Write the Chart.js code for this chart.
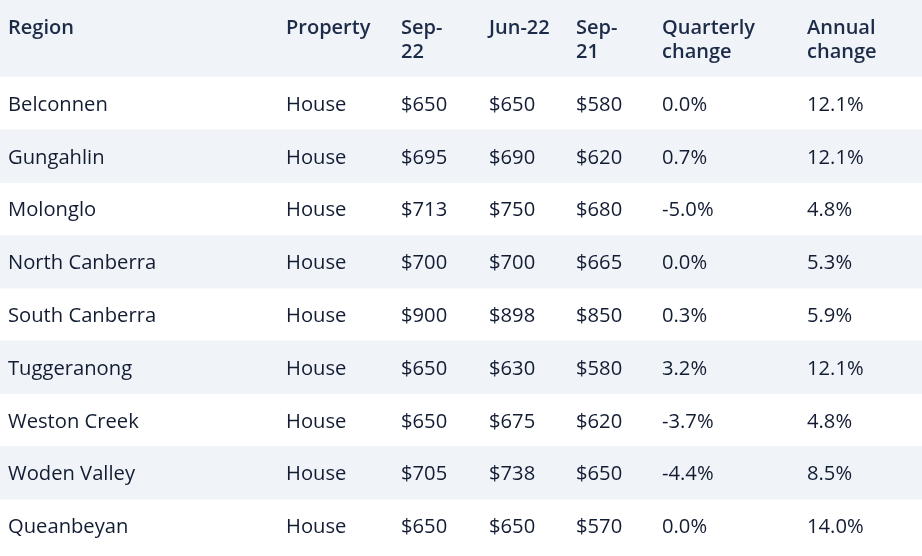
<!DOCTYPE html>
<html><head><meta charset="utf-8">
<script src="https://cdn.jsdelivr.net/npm/chart.js@4"></script>
<style>html,body{margin:0;padding:0;background:#fff;overflow:hidden}#wrap{width:922px;height:556px;position:relative}</style>
</head><body><div id="wrap"><canvas id="c"></canvas></div>
<script>
// ---- data ----
const regions = ["Belconnen","Gungahlin","Molonglo","North Canberra","South Canberra","Tuggeranong","Weston Creek","Woden Valley","Queanbeyan"];
const propertyTypes = ["House","House","House","House","House","House","House","House","House"];
const sep22 = [650,695,713,700,900,650,650,705,650];
const jun22 = [650,690,750,700,898,630,675,738,650];
const sep21 = [580,620,680,665,850,580,620,650,570];
const quarterlyChange = [0.0,0.7,-5.0,0.0,0.3,3.2,-3.7,-4.4,0.0];
const annualChange = [12.1,12.1,4.8,5.3,5.9,12.1,4.8,8.5,14.0];
const headerLabels = [["Region"],["Property"],["Sep-","22"],["Jun-22"],["Sep-","21"],["Quarterly","change"],["Annual","change"]];

// ---- layout / style ----
const COL_X = [8,286,401,489,576,662,807];
const STRIPE = '#f0f3f7';
const HEAD_COLOR = '#1c2b48';
const BODY_COLOR = '#121c33';
const FONT_FAMILY = '"Source Sans Pro","Open Sans",sans-serif';
const BODY_FONT = '400 20.2px ' + FONT_FAMILY;
const HEAD_FONT = '600 20px ' + FONT_FAMILY;

const money = v => '$' + v;
const pct = v => v.toFixed(1) + '%';
const rowCells = i => [regions[i], propertyTypes[i], money(sep22[i]), money(jun22[i]), money(sep21[i]), pct(quarterlyChange[i]), pct(annualChange[i])];

const stripes = regions.map((r,i) => i % 2 === 1 ? [0, 922] : null);

const tablePlugin = {
  id: 'tableText',
  beforeDatasetsDraw(chart) {
    const {ctx, chartArea} = chart;
    ctx.save();
    ctx.fillStyle = STRIPE;
    ctx.fillRect(0, 0, chart.width, chartArea.top);
    ctx.restore();
  },
  afterDatasetsDraw(chart) {
    const {ctx, scales:{x, y}} = chart;
    ctx.save();
    ctx.textBaseline = 'alphabetic';
    ctx.textAlign = 'left';
    ctx.font = HEAD_FONT;
    ctx.fillStyle = HEAD_COLOR;
    headerLabels.forEach((lines, j) => {
      lines.forEach((t, k) => ctx.fillText(t, x.getPixelForValue(COL_X[j]), 33.5 + k * 24.5));
    });
    ctx.font = BODY_FONT;
    ctx.fillStyle = BODY_COLOR;
    regions.forEach((r, i) => {
      const yc = y.getPixelForValue(i);
      rowCells(i).forEach((t, j) => ctx.fillText(t, x.getPixelForValue(COL_X[j]), yc + 7.5));
    });
    ctx.restore();
  }
};

new Chart(document.getElementById('c'), {
  type: 'bar',
  data: {
    labels: regions,
    datasets: [{
      data: stripes,
      backgroundColor: STRIPE,
      borderWidth: 0,
      barPercentage: 1,
      categoryPercentage: 1
    }]
  },
  options: {
    indexAxis: 'y',
    responsive: true,
    maintainAspectRatio: false,
    animation: false,
    layout: {padding: {top: 77, bottom: 4, left: 0, right: 0}},
    scales: {
      x: {type: 'linear', min: 0, max: 922, display: false},
      y: {display: false, offset: true}
    },
    plugins: {legend: {display: false}, tooltip: {enabled: false}}
  },
  plugins: [tablePlugin]
});
</script>
</body></html>
